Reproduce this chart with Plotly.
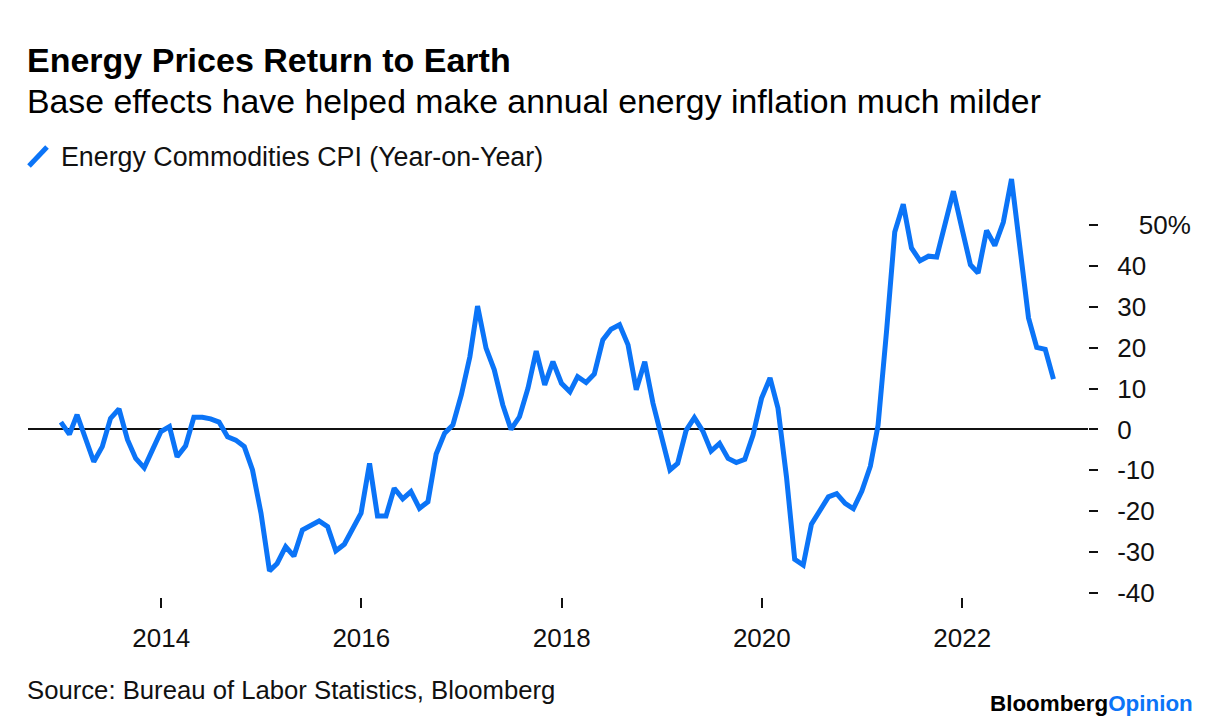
import pandas as pd
import plotly.graph_objects as go

# ---- data (month-end observations, Dec 2012 .. Nov 2022) ----
start_month = "2012-12-31"
n_months = 120
yoy_values = [
    1.8, -1.2, 3.6, -2.0, -7.9, -4.2, 2.7, 5.0, -2.5, -7.1, -9.4, -5.0,
    -0.5, 0.7, -6.7, -4.0, 3.0, 3.0, 2.6, 1.8, -1.8, -2.6, -4.2, -9.9,
    -20.5, -34.6, -32.8, -28.7, -31.0, -24.6, -23.4, -22.4, -23.8, -29.7, -28.1, -24.6,
    -20.5, -8.3, -21.2, -21.2, -14.4, -17.0, -15.2, -19.3, -17.7, -6.0, -0.9, 1.1,
    8.5, 17.8, 30.2, 19.9, 14.6, 6.0, 0.0, 3.1, 10.1, 19.2, 10.9, 16.6,
    11.3, 9.2, 12.9, 11.5, 13.6, 21.9, 24.5, 25.6, 20.7, 9.7, 16.6, 6.4,
    -1.8, -9.9, -8.3, -0.2, 2.9, -0.4, -5.3, -3.4, -7.1, -8.1, -7.3, -1.4,
    7.6, 12.6, 5.2, -11.6, -31.8, -33.2, -23.2, -20.1, -16.5, -15.7, -18.1, -19.4,
    -15.1, -9.0, 1.0, 24.0, 48.3, 55.1, 44.4, 41.3, 42.4, 42.2, 50.0, 58.3,
    49.2, 40.3, 38.3, 48.7, 45.0, 50.7, 61.3, 44.0, 27.3, 20.1, 19.6, 12.3,
]
dates = pd.date_range(start=start_month, periods=n_months, freq="ME")

x_tick_vals = ["2014-01-01", "2016-01-01", "2018-01-01", "2020-01-01", "2022-01-01"]
x_tick_text = ["2014", "2016", "2018", "2020", "2022"]
y_tick_vals = [-40, -30, -20, -10, 0, 10, 20, 30, 40, 50]
y_tick_text = ["-40", "-30", "-20", "-10", "0", "10", "20", "30", "40",
               "\u00a0\u00a0\u00a050%"]

series_name = "Energy Commodities CPI (Year-on-Year)"
title_text = "Energy Prices Return to Earth"
subtitle_text = "Base effects have helped make annual energy inflation much milder"
source_text = "Source: Bureau of Labor Statistics, Bloomberg"

# ---- styling ----
W, H = 1223, 728
PL, PR, PT, PB = 28, 1088, 172, 597  # plot area in pixels
BLUE = "#0B74F7"
FONT = "Liberation Sans, Arial, sans-serif"


def px(x):
    return (x - PL) / (PR - PL)


def py(y):
    return (PB - y) / (PB - PT)


fig = go.Figure()
fig.add_trace(go.Scatter(
    x=dates, y=yoy_values, mode="lines", name=series_name,
    line=dict(color=BLUE, width=5), showlegend=False,
))

fig.update_layout(
    width=W, height=H, autosize=False,
    margin=dict(l=PL, r=W - PR, t=PT, b=H - PB, pad=0),
    paper_bgcolor="white", plot_bgcolor="white",
    font=dict(family=FONT, size=26, color="#111111"),
    xaxis=dict(
        type="date", range=["2012-09-02", "2023-04-05"],
        tickvals=x_tick_vals, ticktext=x_tick_text,
        ticks="outside", ticklen=10, tickwidth=1.5, tickcolor="#111111",
        showgrid=False, zeroline=False, showline=False,
        tickfont=dict(size=26, color="#111111"), ticklabelstandoff=8,
    ),
    yaxis=dict(
        side="right", range=[-41, 63],
        tickvals=y_tick_vals, ticktext=y_tick_text,
        ticks="outside", ticklen=9, tickwidth=1.5, tickcolor="#111111",
        showgrid=False, showline=False,
        zeroline=True, zerolinecolor="#111111", zerolinewidth=2,
        tickfont=dict(size=26, color="#111111"), ticklabelstandoff=14,
    ),
)

annotations = [
    dict(text="<b>" + title_text + "</b>", x=px(25), y=py(60),
         font=dict(size=34, color="#000000")),
    dict(text=subtitle_text, x=px(25), y=py(101),
         font=dict(size=33.8, color="#000000")),
    dict(text=series_name, x=px(59), y=py(157),
         font=dict(size=26.8, color="#111111")),
    dict(text=source_text, x=px(25), y=py(690),
         font=dict(size=25.7, color="#111111")),
]
for a in annotations:
    a.update(xref="paper", yref="paper", xanchor="left", yanchor="middle",
             showarrow=False)
fig.update_layout(annotations=annotations)

fig.add_annotation(
    text="<b>Bloomberg</b><b><span style='color:" + BLUE + "'>Opinion</span></b>",
    x=px(1195), y=py(703), xref="paper", yref="paper",
    xanchor="right", yanchor="middle", showarrow=False,
    font=dict(size=22.4, color="#000000"),
)

# legend swatch (diagonal stroke)
fig.add_shape(type="line", xref="paper", yref="paper",
              x0=px(29), y0=py(166), x1=px(47), y1=py(147),
              line=dict(color=BLUE, width=5))

fig.write_html("out.html", config={"displayModeBar": False},
               post_script="document.body.style.margin='0';")
